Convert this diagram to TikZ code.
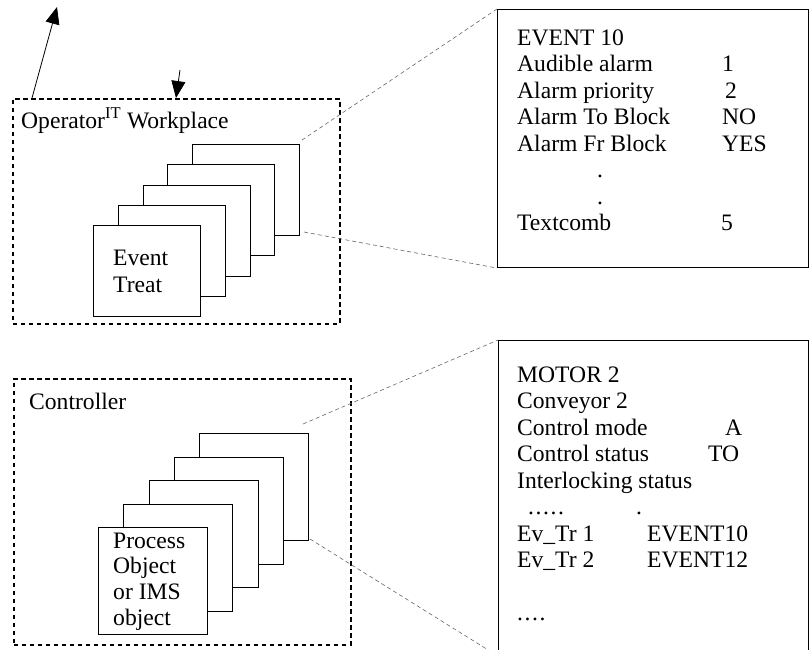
\documentclass[tikz,border=0pt]{standalone}
\usepackage{fontspec}
\setmainfont{Liberation Serif}
\usetikzlibrary{arrows.meta}

\newcommand{\spdots}[1]{\foreach \k in {1,...,#1}{.\kern1.6pt}}

\begin{document}
\begin{tikzpicture}[x=1pt, y=-1pt,
	every node/.style={font=\fontsize{23.6}{26.5}\selectfont, inner sep=0pt},
	>={Triangle[length=17pt, width=14pt]},
	groupbox/.style={draw, line width=1.6pt, dash pattern=on 4.5pt off 3.5pt, anchor=north west},
	stackbox/.style={draw, fill=white, line width=1pt, anchor=north west},
	infobox/.style={draw, line width=1.1pt, anchor=north west},
	zoomline/.style={black!60, line width=0.6pt, dash pattern=on 4pt off 3pt},
	txt/.style={anchor=base west}]
	\useasboundingbox (0,0) rectangle (809,649);
	% containers
	\node[groupbox, minimum width=327pt, minimum height=225pt] (opws) at (12,98) {};
	\node[txt] (opwslbl) at (21,128) {Operator\textsuperscript{IT} Workplace};
	\node[groupbox, minimum width=337pt, minimum height=266pt] (ctrl) at (13,378) {};
	\node[txt] (ctrllbl) at (29,409) {Controller};
	% arrows on the workplace box
	\coordinate (uptip) at (57,7);
	\coordinate (downtail) at (180,70);
	\draw[->, line width=0.8pt] ([xshift=20pt]opws.north west) -- (uptip);
	\draw[->, line width=0.8pt] (downtail) -- ([xshift=164pt]opws.north west);
	% stacked event treat objects
	\foreach \i in {5,4,...,1}
		\node[stackbox, minimum width=107pt, minimum height=91pt] (evt\i) at ({93+24.75*(\i-1)}, {225-20.25*(\i-1)}) {};
	\foreach \t [count=\i from 0] in {Event, Treat}
		\node[txt] (evtlbl\i) at (113, {265+27*\i}) {\t};
	% stacked process objects
	\foreach \i in {5,4,...,1}
		\node[stackbox, minimum width=109pt, minimum height=107pt] (proc\i) at ({98+25.25*(\i-1)}, {527-23.5*(\i-1)}) {};
	\foreach \t [count=\i from 0] in {Process, Object, or IMS, object}
		\node[txt] (proclbl\i) at (113, {548+25.8*\i}) {\t};
	% detail of EVENT 10
	\node[infobox, minimum width=311pt, minimum height=258pt] (event) at (497,9) {};
	\foreach \t/\r in {EVENT 10/0, Audible alarm/1, Alarm priority/2, Alarm To Block/3, Alarm Fr Block/4, Textcomb/7}
		\node[txt] (evrow\r) at (517, {45+26.5*\r}) {\t};
	\foreach \t/\r/\x in {1/1/722, 2/2/725, NO/3/722, YES/4/722, ./5/597, ./6/597, 5/7/721}
		\node[txt] (evval\r) at (\x, {45+26.5*\r}) {\t};
	% detail of MOTOR 2
	\node[infobox, minimum width=310pt, minimum height=315pt] (motor) at (498,340) {};
	\foreach \t/\r in {MOTOR 2/0, Conveyor 2/1, Control mode/2, Control status/3, Interlocking status/4, Ev\_Tr 1/6, Ev\_Tr 2/7}
		\node[txt] (morow\r) at (517, {382+26.5*\r}) {\t};
	\node[txt] (morow5) at (528, {382+26.5*5}) {\spdots{5}};
	\node[txt] (morow9) at (517, {382+26.5*9}) {\spdots{4}};
	\foreach \t/\r/\x in {A/2/725, TO/3/708, ./5/636, EVENT10/6/647, EVENT12/7/647}
		\node[txt] (moval\r) at (\x, {382+26.5*\r}) {\t};
	% zoom lines
	\coordinate (evtop) at (302,140);
	\coordinate (evbot) at (304,232);
	\coordinate (motop) at (303,424);
	\coordinate (mobot) at (310,539);
	\draw[zoomline] (evtop) -- (event.north west);
	\draw[zoomline] (evbot) -- (event.south west);
	\draw[zoomline] (motop) -- (motor.north west);
	\draw[zoomline] (mobot) -- (motor.south west);
\end{tikzpicture}
\end{document}
